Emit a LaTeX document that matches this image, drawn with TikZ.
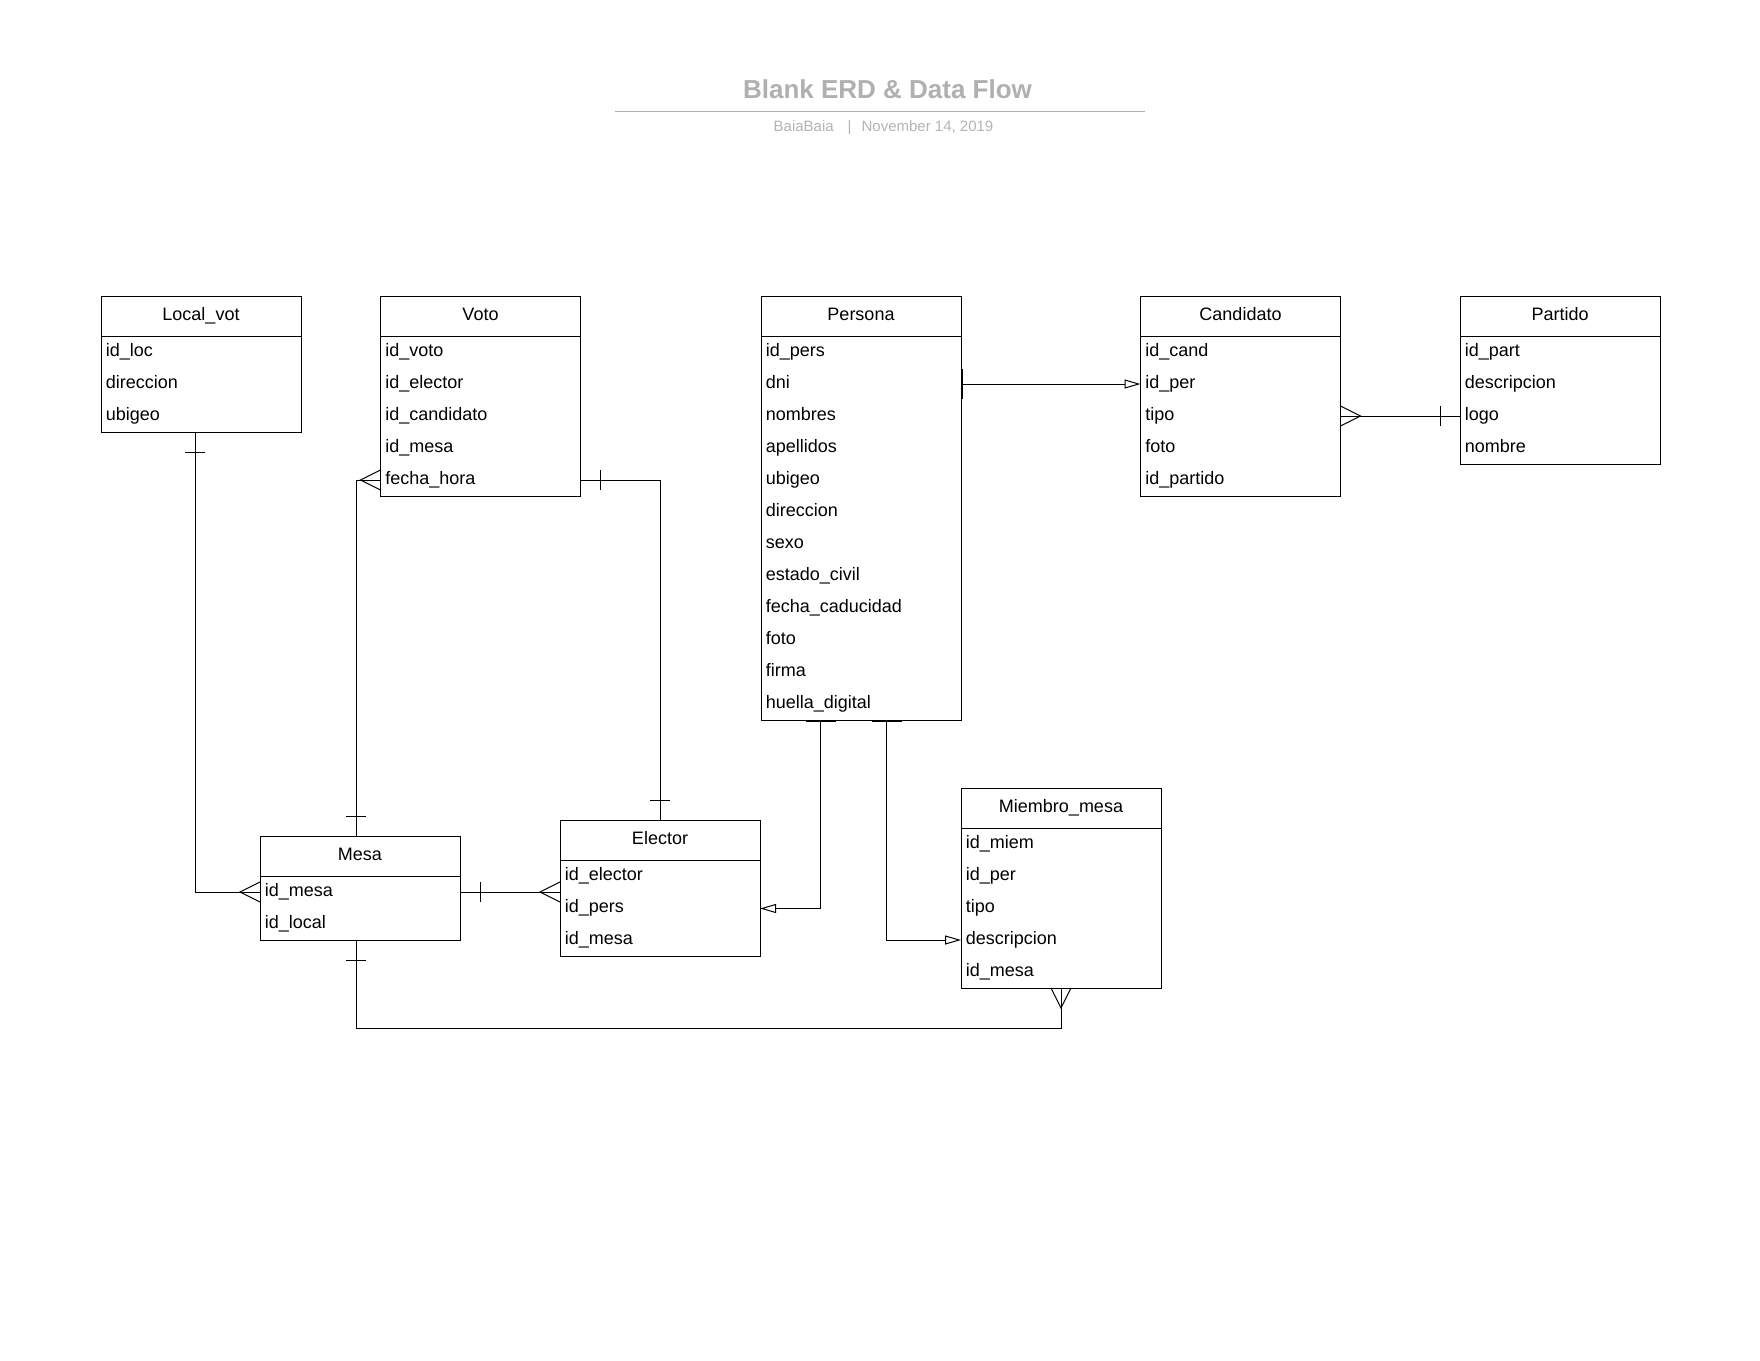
\documentclass[tikz,border=0pt]{standalone}
\usepackage{fontspec}
\setmainfont{Liberation Sans}
\usetikzlibrary{arrows.meta,calc}
\definecolor{titlegray}{RGB}{176,176,176}
\definecolor{subgray}{RGB}{180,180,180}
\tikzset{
 entbox/.style={draw, line width=0.5pt, minimum width=100pt, inner sep=0pt, outer sep=0pt},
 enttitle/.style={anchor=base, inner sep=0pt, font=\fontsize{9}{11}\selectfont},
 entrow/.style={anchor=base west, inner sep=0pt, font=\fontsize{9}{11}\selectfont},
 conn/.style={line width=0.5pt},
 opentip/.style={-{Triangle[open,length=8pt,width=4.5pt]}},
 thickbar/.style={line width=0.9pt}
}
\newcommand{\erent}[6]{%
  \pgfmathsetmacro{\enth}{(40+32*#4)*0.5}%
  \node[entbox, minimum height=\enth pt, anchor=north west] (#1) at (#2,#3) {};
  \draw[conn] ({#2},{#3+40}) -- ({#2+200},{#3+40});
  \node[enttitle] (#1-t) at ({#2+100},{#3+24}) {#5};
  \foreach \r [count=\i] in {#6} {
    \node[entrow] (#1-\i) at ({#2+4.5},{#3+60+32*(\i-1)}) {\r};
    \coordinate (#1-r\i) at ({#2},{#3+56+32*(\i-1)});
  }
}
\begin{document}
\begin{tikzpicture}[x=0.5pt,y=-0.5pt]
\fill[white] (0,0) rectangle (1760,1360);
\useasboundingbox (0,0) rectangle (1760,1360);

% title block
\node[anchor=base, inner sep=0pt, text=titlegray, font=\bfseries\fontsize{13}{15}\selectfont] (title) at (887.5,98.3) {Blank ERD \& Data Flow};
\coordinate (tl) at (615,111.7);
\coordinate (tr) at (1145,111.7);
\draw[titlegray, line width=0.6pt] (tl) -- (tr);
\node[anchor=base, inner sep=0pt, text=subgray, font=\fontsize{7.5}{9}\selectfont] (sub) at (883.5,131.7) {BaiaBaia\hspace{7pt}|\hspace{5pt}November 14, 2019};

% entities
\erent{local}{101}{296}{3}{Local\_vot}{id\_loc,direccion,ubigeo}
\erent{voto}{380.5}{296}{5}{Voto}{id\_voto,id\_elector,id\_candidato,id\_mesa,fecha\_hora}
\erent{persona}{761}{296}{12}{Persona}{id\_pers,dni,nombres,apellidos,ubigeo,direccion,sexo,estado\_civil,fecha\_caducidad,foto,firma,huella\_digital}
\erent{cand}{1140.5}{296}{5}{Candidato}{id\_cand,id\_per,tipo,foto,id\_partido}
\erent{partido}{1460}{296}{4}{Partido}{id\_part,descripcion,logo,nombre}
\erent{mesa}{260}{836}{2}{Mesa}{id\_mesa,id\_local}
\erent{elector}{560}{820.5}{3}{Elector}{id\_elector,id\_pers,id\_mesa}
\erent{miembro}{961}{788}{5}{Miembro\_mesa}{id\_miem,id\_per,tipo,descripcion,id\_mesa}

% Local_vot -> Mesa
\draw[conn] ($(local.south)+(-5.7,0)$) |- (mesa-r1);
\draw[conn] ($(local.south)+(-15.7,20)$) -- ++(20,0);
\draw[conn] ($(mesa-r1)+(0,-10)$) -- ($(mesa-r1)+(-20,0)$) -- ($(mesa-r1)+(0,10)$);

% Mesa -> Voto
\draw[conn] ($(mesa.north)+(-4,0)$) |- (voto-r5);
\draw[conn] ($(mesa.north)+(-14,-20)$) -- ++(20,0);
\draw[conn] ($(voto-r5)+(0,-10)$) -- ($(voto-r5)+(-20,0)$) -- ($(voto-r5)+(0,10)$);

% Voto -> Elector
\draw[conn] (voto-r5 -| voto.east) -| (elector.north);
\draw[conn] ($(voto-r5 -| voto.east)+(20,-10)$) -- ++(0,20);
\draw[conn] ($(elector.north)+(-10,-20)$) -- ++(20,0);

% Mesa -> Elector
\draw[conn] (mesa-r1 -| mesa.east) -- (mesa-r1 -| elector.west);
\draw[conn] ($(mesa-r1 -| mesa.east)+(20,-10)$) -- ++(0,20);
\draw[conn] ($(mesa-r1 -| elector.west)+(0,-10)$) -- ($(mesa-r1 -| elector.west)+(-20,0)$) -- ($(mesa-r1 -| elector.west)+(0,10)$);

% Persona -> Elector
\draw[conn,opentip] ($(persona.south west)+(59.5,0)$) |- (elector-r2 -| elector.east);
\draw[thickbar] ($(persona.south west)+(44.5,1)$) -- ++(30,0);

% Persona -> Miembro_mesa
\draw[conn,opentip] ($(persona.south west)+(125.5,0)$) |- (miembro-r4);
\draw[thickbar] ($(persona.south west)+(110.5,1)$) -- ++(30,0);

% Persona -> Candidato
\draw[conn,opentip] (cand-r2 -| persona.east) -- (cand-r2);
\draw[thickbar] ($(cand-r2 -| persona.east)+(1,-15)$) -- ++(0,30);

% Candidato -> Partido
\draw[conn] (cand-r3 -| cand.east) -- (partido-r3);
\draw[conn] ($(cand-r3 -| cand.east)+(0,-10)$) -- ($(cand-r3 -| cand.east)+(20,0)$) -- ($(cand-r3 -| cand.east)+(0,10)$);
\draw[conn] ($(partido-r3)+(-20,-10)$) -- ++(0,20);

% Mesa -> Miembro_mesa
\coordinate (mmbend) at ($(mesa.south)+(-4,88)$);
\draw[conn] ($(mesa.south)+(-4,0)$) -- (mmbend) -| (miembro.south);
\draw[conn] ($(mesa.south)+(-14,20)$) -- ++(20,0);
\draw[conn] ($(miembro.south)+(-10,0)$) -- ($(miembro.south)+(0,20)$) -- ($(miembro.south)+(10,0)$);
\end{tikzpicture}
\end{document}
